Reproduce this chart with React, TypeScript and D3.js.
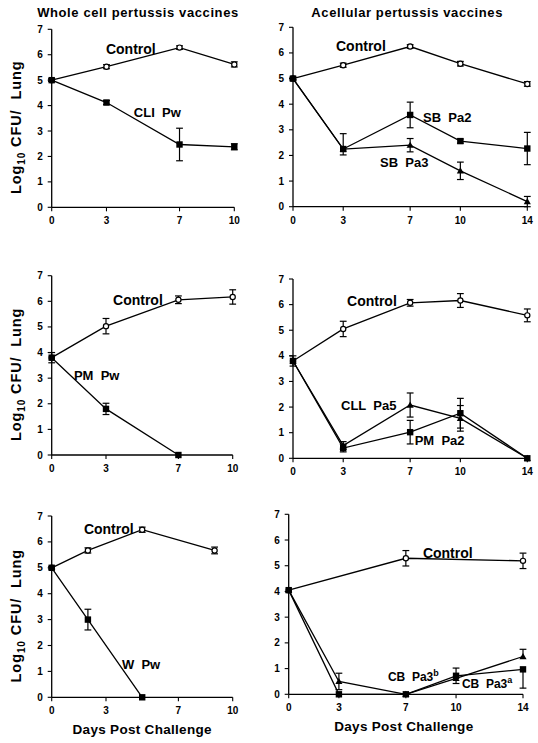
import React from 'react';
import * as d3 from 'd3';

// ---------- tick labels ----------
const yTicks = [0, 1, 2, 3, 4, 5, 6, 7];
const xTicksWhole = [0, 3, 7, 10];
const xTicksAcell = [0, 3, 7, 10, 14];

// ---------- Panel A: whole cell, CLI Pw ----------
const aDays = [0, 3, 7, 10];
const aControl = [5.0, 5.53, 6.28, 5.62];
const aControlErr = [0.05, 0.08, 0.07, 0.1];
const aCliPw = [5.0, 4.12, 2.47, 2.38];
const aCliPwErr = [0.05, 0.08, 0.64, 0.12];

// ---------- Panel B: acellular, SB Pa2 / SB Pa3 ----------
const bDays = [0, 3, 7, 10, 14];
const bControl = [5.0, 5.52, 6.25, 5.58, 4.79];
const bControlErr = [0.05, 0.08, 0.07, 0.09, 0.09];
const bSbPa2 = [5.0, 2.25, 3.58, 2.56, 2.27];
const bSbPa2ErrUp = [0.05, 0.6, 0.5, 0.08, 0.63];
const bSbPa2ErrDown = [0.05, 0.23, 0.5, 0.08, 0.63];
const bSbPa3 = [5.0, 2.25, 2.4, 1.4, 0.2];
const bSbPa3Err = [0, 0, 0.26, 0.34, 0.2];

// ---------- Panel C: whole cell, PM Pw ----------
const cDays = [0, 3, 7, 10];
const cControl = [3.8, 5.03, 6.06, 6.17];
const cControlErr = [0.2, 0.3, 0.15, 0.28];
const cPmPwDays = [0, 3, 7];
const cPmPw = [3.8, 1.8, 0];
const cPmPwErr = [0, 0.22, 0];

// ---------- Panel D: acellular, CLL Pa5 / PM Pa2 ----------
const dDays = [0, 3, 7, 10, 14];
const dControl = [3.8, 5.05, 6.07, 6.16, 5.58];
const dControlErr = [0.2, 0.3, 0.13, 0.27, 0.25];
const dCllPa5 = [3.8, 0.5, 2.08, 1.56, 0];
const dCllPa5Err = [0, 0.15, 0.47, 0.5, 0];
const dPmPa2 = [3.8, 0.4, 1.02, 1.76, 0];
const dPmPa2Err = [0, 0.15, 0.46, 0.58, 0];

// ---------- Panel E: whole cell, W Pw ----------
const eDays = [0, 2, 5, 9];
const eControl = [5.0, 5.67, 6.47, 5.67];
const eControlErr = [0.05, 0.1, 0.1, 0.13];
const eWPwDays = [0, 2, 5];
const eWPw = [5.0, 3.0, 0];
const eWPwErr = [0, 0.4, 0];

// ---------- Panel F: acellular, CB Pa3 a/b ----------
const fControlDays = [0, 7, 14];
const fControl = [4.05, 5.29, 5.19];
const fControlErr = [0, 0.3, 0.3];
const fDays = [0, 3, 7, 10, 14];
const fCbPa3b = [4.05, 0.5, 0, 0.62, 1.47];
const fCbPa3bErrUp = [0, 0.32, 0, 0, 0.28];
const fCbPa3bErrDown = [0, 0.32, 0, 0, 0];
const fCbPa3a = [4.05, 0, 0, 0.72, 0.97];
const fCbPa3aErrUp = [0, 0, 0, 0.3, 0];
const fCbPa3aErrDown = [0, 0, 0, 0.3, 0.73];

type Marker = 'circle' | 'square' | 'triangle';
type Series = {
  days: number[];
  values: number[];
  errUp: number[];
  errDown: number[];
  marker: Marker;
};
type Label = { text: string; sup?: string; d: number; v: number; size: number };
type PanelCfg = {
  x0: number; x1: number; yTop: number; yBot: number;
  xMax: number; xTicks: number[];
  title?: string; yLabel?: boolean; xLabel?: boolean;
  series: Series[]; labels: Label[];
};

const ser = (days: number[], values: number[], up: number[], down: number[], marker: Marker): Series =>
  ({ days, values, errUp: up, errDown: down, marker });

const FONT = '"Liberation Sans", Arial, Helvetica, sans-serif';

const panels: PanelCfg[] = [
  {
    x0: 51.7, x1: 234.3, yTop: 29.3, yBot: 207.3, xMax: 10, xTicks: xTicksWhole,
    title: 'Whole cell pertussis vaccines', yLabel: true,
    series: [
      ser(aDays, aControl, aControlErr, aControlErr, 'circle'),
      ser(aDays, aCliPw, aCliPwErr, aCliPwErr, 'square'),
    ],
    labels: [
      { text: 'Control', d: 2.97, v: 6.03, size: 14 },
      { text: 'CLI  Pw', d: 4.5, v: 3.55, size: 13 },
    ],
  },
  {
    x0: 293, x1: 527.3, yTop: 27.3, yBot: 206.7, xMax: 14, xTicks: xTicksAcell,
    title: 'Acellular pertussis vaccines',
    series: [
      ser(bDays, bControl, bControlErr, bControlErr, 'circle'),
      ser(bDays, bSbPa2, bSbPa2ErrUp, bSbPa2ErrDown, 'square'),
      ser(bDays, bSbPa3, bSbPa3Err, bSbPa3Err, 'triangle'),
    ],
    labels: [
      { text: 'Control', d: 2.57, v: 6.07, size: 14 },
      { text: 'SB  Pa2', d: 7.77, v: 3.3, size: 13 },
      { text: 'SB  Pa3', d: 5.2, v: 1.55, size: 13 },
    ],
  },
  {
    x0: 51.7, x1: 232.7, yTop: 275.7, yBot: 455, xMax: 10, xTicks: xTicksWhole,
    yLabel: true,
    series: [
      ser(cDays, cControl, cControlErr, cControlErr, 'circle'),
      ser(cPmPwDays, cPmPw, cPmPwErr, cPmPwErr, 'square'),
    ],
    labels: [
      { text: 'Control', d: 3.39, v: 5.84, size: 14 },
      { text: 'PM  Pw', d: 1.23, v: 2.93, size: 13 },
    ],
  },
  {
    x0: 293, x1: 527.3, yTop: 279, yBot: 458.3, xMax: 14, xTicks: xTicksAcell,
    series: [
      ser(dDays, dControl, dControlErr, dControlErr, 'circle'),
      ser(dDays, dCllPa5, dCllPa5Err, dCllPa5Err, 'triangle'),
      ser(dDays, dPmPa2, dPmPa2Err, dPmPa2Err, 'square'),
    ],
    labels: [
      { text: 'Control', d: 3.23, v: 5.93, size: 14 },
      { text: 'CLL  Pa5', d: 2.87, v: 1.87, size: 13 },
      { text: 'PM  Pa2', d: 7.27, v: 0.52, size: 13 },
    ],
  },
  {
    x0: 51.7, x1: 232.7, yTop: 516, yBot: 697.3, xMax: 10, xTicks: xTicksWhole,
    yLabel: true, xLabel: true,
    series: [
      ser(eDays, eControl, eControlErr, eControlErr, 'circle'),
      ser(eWPwDays, eWPw, eWPwErr, eWPwErr, 'square'),
    ],
    labels: [
      { text: 'Control', d: 1.78, v: 6.31, size: 14 },
      { text: 'W  Pw', d: 3.88, v: 1.09, size: 13 },
    ],
  },
  {
    x0: 288.7, x1: 523, yTop: 514.3, yBot: 694.3, xMax: 14, xTicks: xTicksAcell,
    xLabel: true,
    series: [
      ser(fControlDays, fControl, fControlErr, fControlErr, 'circle'),
      ser(fDays, fCbPa3b, fCbPa3bErrUp, fCbPa3bErrDown, 'triangle'),
      ser(fDays, fCbPa3a, fCbPa3aErrUp, fCbPa3aErrDown, 'square'),
    ],
    labels: [
      { text: 'Control', d: 8.02, v: 5.3, size: 14 },
      { text: 'CB  Pa3', sup: 'b', d: 5.93, v: 0.52, size: 12 },
      { text: 'CB  Pa3', sup: 'a', d: 10.35, v: 0.25, size: 12 },
    ],
  },
];

const STROKE = 1.3;

function MarkerShape({ type, cx, cy }: { type: Marker; cx: number; cy: number }) {
  if (type === 'circle') {
    return <circle cx={cx} cy={cy} r={2.6} fill="#fff" stroke="#000" strokeWidth={1.2} />;
  }
  if (type === 'square') {
    const s = 6.4;
    return <rect x={cx - s / 2} y={cy - s / 2} width={s} height={s} fill="#000" />;
  }
  const sym = d3.symbol().type(d3.symbolTriangle).size(22)();
  return <path d={sym || ''} transform={`translate(${cx},${cy + 0.6})`} fill="#000" />;
}

function Panel({ cfg }: { cfg: PanelCfg }) {
  const x = d3.scaleLinear().domain([0, cfg.xMax]).range([cfg.x0, cfg.x1]);
  const y = d3.scaleLinear().domain([0, 7]).range([cfg.yBot, cfg.yTop]);
  const line = d3.line<[number, number]>().x((p) => x(p[0])).y((p) => y(p[1]));
  const cap = 3.4;
  return (
    <g>
      {/* axes */}
      <line x1={cfg.x0} x2={cfg.x0} y1={cfg.yTop} y2={cfg.yBot} stroke="#000" strokeWidth={STROKE} />
      <line x1={cfg.x0} x2={cfg.x1} y1={cfg.yBot} y2={cfg.yBot} stroke="#000" strokeWidth={STROKE} />
      {yTicks.map((t) => (
        <g key={'y' + t}>
          <line x1={cfg.x0 - 4} x2={cfg.x0} y1={y(t)} y2={y(t)} stroke="#000" strokeWidth={1.1} />
          <text x={cfg.x0 - 9} y={y(t)} dy="0.35em" textAnchor="end" fontSize={10} fontWeight="bold" fontFamily={FONT}>
            {t}
          </text>
        </g>
      ))}
      {cfg.xTicks.map((t) => (
        <g key={'x' + t}>
          <line x1={x(t)} x2={x(t)} y1={cfg.yBot} y2={cfg.yBot + 4} stroke="#000" strokeWidth={1.1} />
          <text x={x(t)} y={cfg.yBot + 17} textAnchor="middle" fontSize={10} fontWeight="bold" fontFamily={FONT}>
            {t}
          </text>
        </g>
      ))}
      {/* series lines */}
      {cfg.series.map((s, i) => (
        <path
          key={'l' + i}
          d={line(s.days.map((dd, j) => [dd, s.values[j]] as [number, number])) || ''}
          fill="none"
          stroke="#000"
          strokeWidth={STROKE}
        />
      ))}
      {/* error bars */}
      {cfg.series.map((s, i) =>
        s.days.map((dd, j) => {
          const up = s.errUp[j];
          const dn = s.errDown[j];
          if (!up && !dn) return null;
          const cx = x(dd);
          const yHi = y(s.values[j] + up);
          const yLo = y(Math.max(0, s.values[j] - dn));
          return (
            <g key={`e${i}-${j}`} stroke="#000" strokeWidth={1.2}>
              <line x1={cx} x2={cx} y1={yHi} y2={yLo} />
              {up > 0 && <line x1={cx - cap} x2={cx + cap} y1={yHi} y2={yHi} />}
              {dn > 0 && <line x1={cx - cap} x2={cx + cap} y1={yLo} y2={yLo} />}
            </g>
          );
        })
      )}
      {/* markers */}
      {cfg.series.map((s, i) =>
        s.days.map((dd, j) => <MarkerShape key={`m${i}-${j}`} type={s.marker} cx={x(dd)} cy={y(s.values[j])} />)
      )}
      {/* series labels */}
      {cfg.labels.map((l, i) => (
        <text
          key={'t' + i}
          x={x(l.d)}
          y={y(l.v)}
          fontSize={l.size}
          fontWeight="bold"
          fontFamily={FONT}
          style={{ whiteSpace: 'pre' }}
        >
          {l.text}
          {l.sup && (
            <tspan fontSize={l.size * 0.75} dy={-l.size * 0.4}>
              {l.sup}
            </tspan>
          )}
        </text>
      ))}
      {cfg.title && (
        <text
          x={(cfg.x0 + cfg.x1) / 2 + (cfg.yLabel ? -5 : -3)}
          y={17}
          textAnchor="middle"
          fontSize={13}
          fontWeight="bold"
          letterSpacing={0.6}
          fontFamily={FONT}
        >
          {cfg.title}
        </text>
      )}
      {cfg.yLabel && (
        <text
          transform={`translate(21,${(cfg.yTop + cfg.yBot) / 2 + 9}) rotate(-90)`}
          textAnchor="middle"
          fontSize={14.5}
          fontWeight="bold"
          letterSpacing={0.9}
          fontFamily={FONT}
          style={{ whiteSpace: 'pre' }}
        >
          Log
          <tspan fontSize={10} dy={4}>10</tspan>
          <tspan dy={-4}> CFU/  Lung</tspan>
        </text>
      )}
      {cfg.xLabel && (
        <text
          x={(cfg.x0 + cfg.x1) / 2 - (cfg.yLabel ? 0 : 2)}
          y={cfg.yBot + 37}
          textAnchor="middle"
          fontSize={13.5}
          fontWeight="bold"
          letterSpacing={0.3}
          fontFamily={FONT}
        >
          Days Post Challenge
        </text>
      )}
    </g>
  );
}

export default function App() {
  return (
    <svg
      width={538}
      height={743}
      viewBox="0 0 538 743"
      style={{ position: 'absolute', left: 0, top: 0, background: '#fff' }}
    >
      <rect x={0} y={0} width={538} height={743} fill="#fff" />
      {panels.map((p, i) => (
        <Panel key={i} cfg={p} />
      ))}
    </svg>
  );
}
